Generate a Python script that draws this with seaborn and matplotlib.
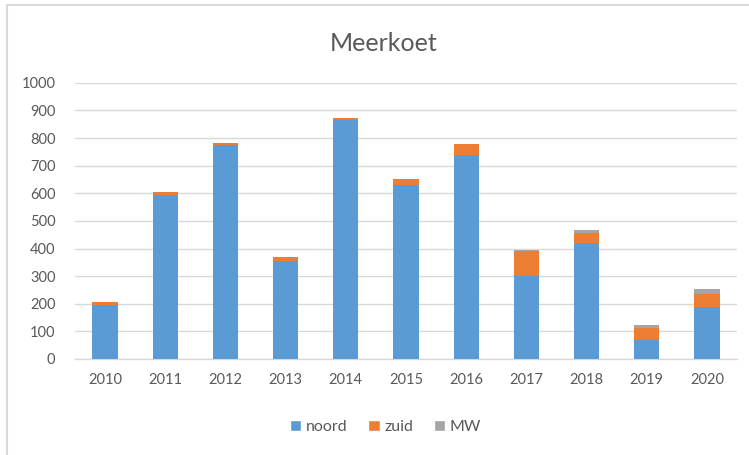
import matplotlib
matplotlib.use("Agg")
import matplotlib.pyplot as plt
from matplotlib.patches import Patch, Rectangle
import seaborn as sns
import pandas as pd

# Counts per year and area
years = ["2010", "2011", "2012", "2013", "2014", "2015", "2016", "2017", "2018", "2019", "2020"]
noord = [197, 594, 776, 355, 867, 630, 740, 300, 420, 68, 187]
zuid = [8, 11, 6, 13, 7, 22, 38, 90, 36, 43, 47]
mw = [0, 0, 0, 0, 0, 0, 2, 3, 12, 12, 20]
yticks = [0, 100, 200, 300, 400, 500, 600, 700, 800, 900, 1000]

c_noord = "#5B9BD5"
c_zuid = "#ED7D31"
c_mw = "#A5A5A5"
txt = "#595959"

sns.set_theme(style="white")
plt.rcParams["font.family"] = ["Lato", "DejaVu Sans"]

df = pd.DataFrame({"year": years, "noord": noord, "zuid": zuid, "mw": mw})
df["nz"] = df["noord"] + df["zuid"]
df["total"] = df["nz"] + df["mw"]

fig = plt.figure(figsize=(7.49, 4.55), dpi=100)
ax = fig.add_axes([0.100, 0.211, 0.884, 0.607])

# stacked bars drawn as overlapping cumulative totals
for col, color in [("total", c_mw), ("nz", c_zuid), ("noord", c_noord)]:
    sns.barplot(data=df, x="year", y=col, color=color, width=0.42,
                saturation=1, ax=ax, linewidth=0, zorder=3)

ax.set_ylim(0, 1000)
ax.set_xlim(-0.5, len(years) - 0.5)
ax.set_yticks(yticks)
ax.set_yticklabels([str(v) for v in yticks])
ax.set_xlabel("")
ax.set_ylabel("")
ax.grid(axis="y", color="#D9D9D9", linewidth=1.0, zorder=0)
ax.set_axisbelow(True)
for s in ["top", "right", "left"]:
    ax.spines[s].set_visible(False)
ax.spines["bottom"].set_color("#D9D9D9")
ax.spines["bottom"].set_linewidth(1.0)
ax.tick_params(axis="both", length=0, labelsize=10.5, labelcolor=txt)
ax.tick_params(axis="y", pad=14)
ax.tick_params(axis="x", pad=10)

fig.text(0.512, 0.905, "Meerkoet", ha="center", va="center",
         fontsize=18, color=txt)

handles = [Patch(facecolor=c_noord, label="noord"),
           Patch(facecolor=c_zuid, label="zuid"),
           Patch(facecolor=c_mw, label="MW")]
fig.legend(handles=handles, loc="center", bbox_to_anchor=(0.515, 0.062),
           ncol=3, frameon=False, fontsize=11.5, labelcolor=txt,
           handlelength=0.7, handleheight=0.7, handletextpad=0.3,
           columnspacing=1.3)

# chart frame
fig.add_artist(Rectangle((7 / 749, -0.1), 1.2, 1 - 5 / 455 + 0.1,
                         transform=fig.transFigure, fill=False,
                         edgecolor="#D9D9D9", linewidth=1.5))

fig.savefig("out.png", dpi=100)
